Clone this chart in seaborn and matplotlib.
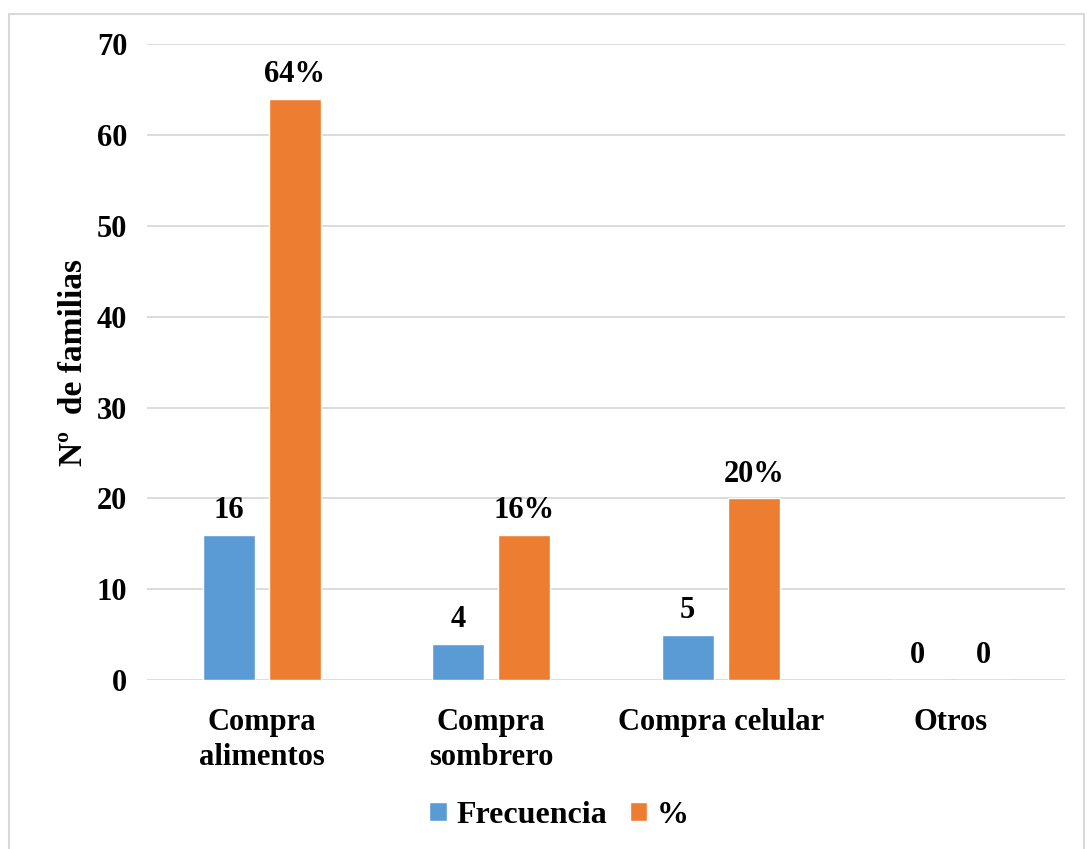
import seaborn as sns
import pandas as pd
import matplotlib.pyplot as plt
from matplotlib.patches import Rectangle

categorias = ["Compra\nalimentos", "Compra\nsombrero", "Compra celular", "Otros"]
frecuencia = [16, 4, 5, 0]
porcentaje = [64, 16, 20, 0]
etiquetas_pct = ["64%", "16%", "20%", "0"]
series = ["Frecuencia", "%"]

df = pd.DataFrame({
    "Categoria": categorias * 2,
    "Valor": frecuencia + porcentaje,
    "Serie": [series[0]] * 4 + [series[1]] * 4,
})

sns.set_style("white")
plt.rcParams['font.family'] = ['Liberation Serif', 'DejaVu Serif']
plt.rcParams['font.weight'] = 'bold'
plt.rcParams['text.color'] = 'black'
plt.rcParams['axes.labelcolor'] = 'black'
plt.rcParams['xtick.color'] = 'black'
plt.rcParams['ytick.color'] = 'black'

fig = plt.figure(figsize=(10.88, 8.49), dpi=100)
ax = fig.add_axes([0.135, 0.199, 0.844, 0.749])
sns.barplot(data=df, x="Categoria", y="Valor", hue="Serie", ax=ax,
            palette=["#5B9BD5", "#ED7D31"], width=0.575, gap=0.21,
            saturation=1, legend=True)

ax.set_ylim(0, 70)
ax.set_yticks(range(0, 71, 10))
ax.grid(axis='y', color='#D9D9D9', linewidth=1.3)
ax.set_axisbelow(True)
for s in ax.spines.values():
    s.set_visible(False)
ax.tick_params(axis='both', length=0, labelsize=22, pad=14)
ax.tick_params(axis='x', pad=20)
for t in ax.get_xticklabels() + ax.get_yticklabels():
    t.set_fontweight('bold')
    t.set_linespacing(1.3)
ax.set_xlabel("")
ax.set_ylabel("Nº  de familias", fontsize=24, fontweight='bold', labelpad=6)

ax.bar_label(ax.containers[0], labels=[str(v) for v in frecuencia],
             padding=7, fontsize=22, fontweight='bold')
ax.bar_label(ax.containers[1], labels=etiquetas_pct,
             padding=7, fontsize=22, fontweight='bold')

handles, labels = ax.get_legend_handles_labels()
ax.legend(handles, labels, loc='upper center', bbox_to_anchor=(0.449, -0.145),
          ncol=2, frameon=False, handlelength=0.55, handleheight=0.55,
          handletextpad=0.3, columnspacing=0.7,
          prop={'size': 23, 'weight': 'bold'})

fig.patches.append(Rectangle((9 / 1088, -0.01), 1075 / 1088, 1 - 14 / 849 + 0.01,
                             transform=fig.transFigure, fill=False,
                             edgecolor='#D9D9D9', linewidth=1.5))

fig.savefig("out.png", dpi=100)
